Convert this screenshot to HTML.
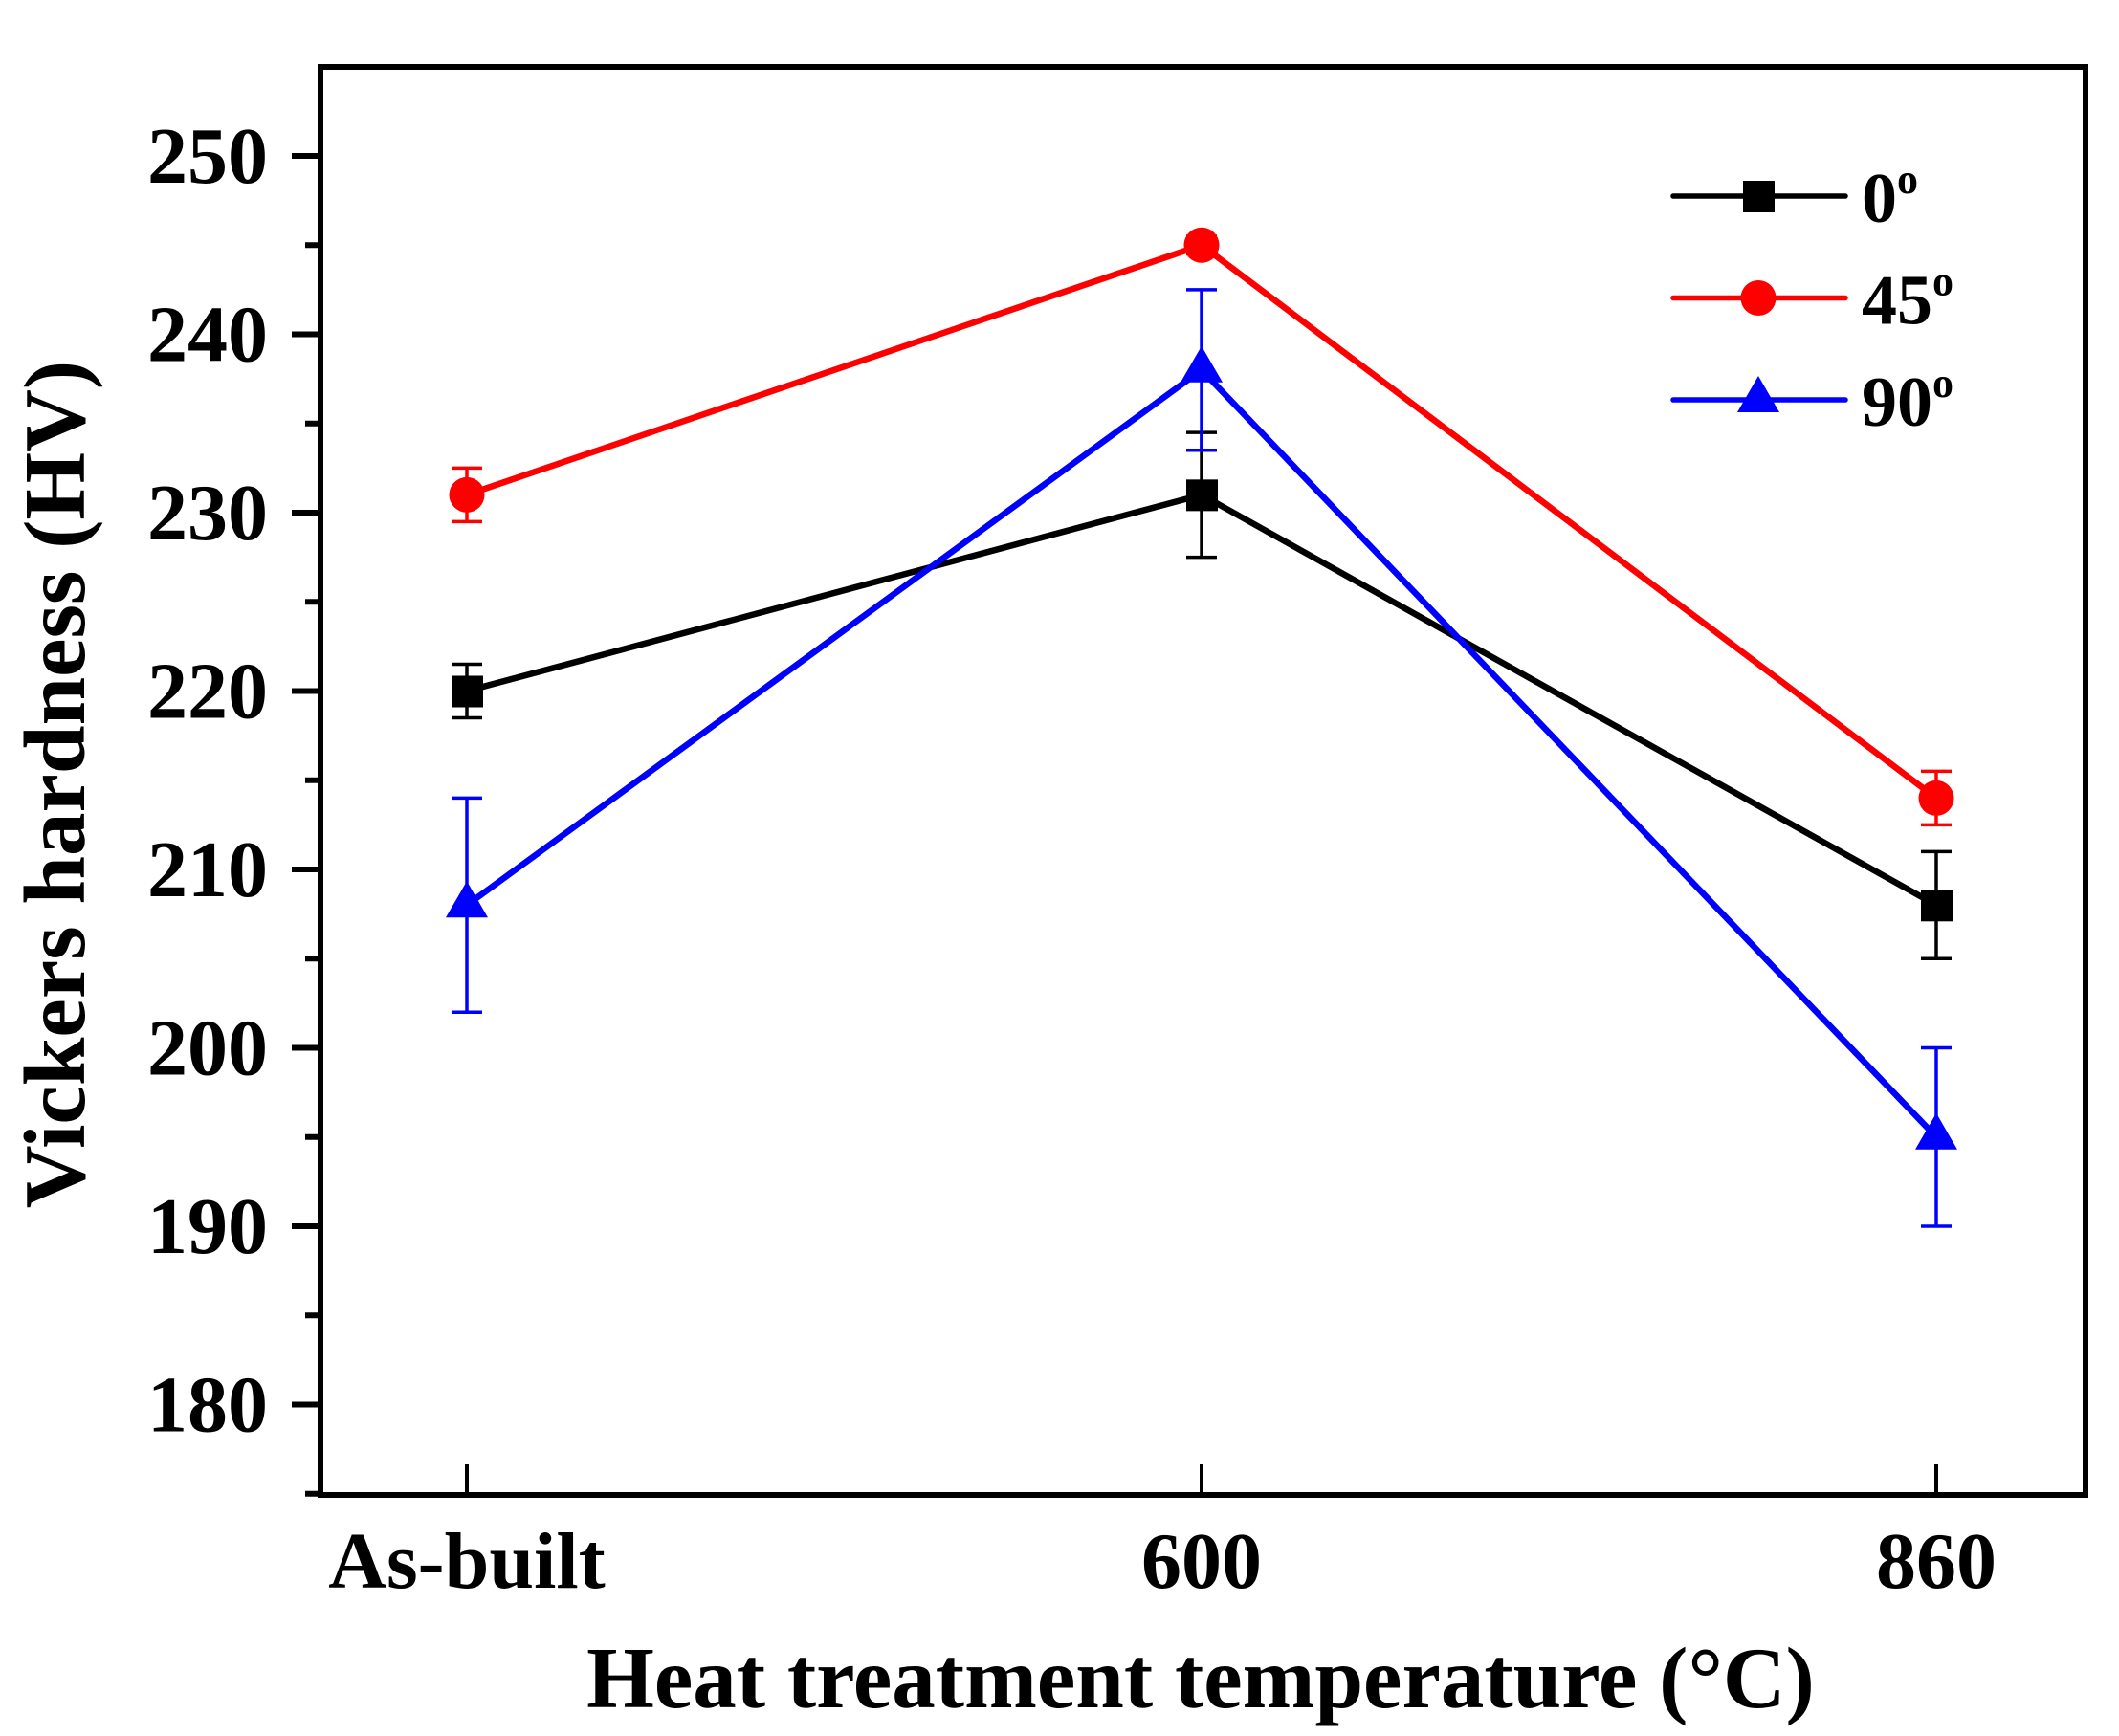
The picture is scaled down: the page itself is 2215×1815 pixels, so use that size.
<!DOCTYPE html>
<html><head><meta charset="utf-8"><style>
html,body{margin:0;padding:0;background:#fff;}
svg{display:block;font-family:"Liberation Serif",serif;font-weight:bold;}
</style></head><body>
<svg id="chart" width="2215" height="1815" viewBox="0 0 2215 1815" xmlns="http://www.w3.org/2000/svg">
<g id="grid"></g>
<g id="series"></g>
<g id="legend"></g>
<text x="1255" y="1785" font-size="91" text-anchor="middle">Heat treatment temperature (°C)</text>
<text transform="translate(88,820) rotate(-90)" font-size="91" text-anchor="middle">Vickers hardness (HV)</text>
</svg>
<script>
const categories = ["As-built", "600", "860"];
const seriesNames = ["0", "45", "90"];
const values0 = [220, 231, 208];
const errors0 = [1.5, 3.5, 3];
const values45 = [231, 245, 214];
const errors45 = [1.5, 0.5, 1.5];
const values90 = [208, 238, 195];
const errors90 = [6, 4.5, 5];
const yTicks = [180, 190, 200, 210, 220, 230, 240, 250];

const NS = "http://www.w3.org/2000/svg";
const L = 335, R = 2180, T = 70, B = 1563;
function xPos(i){ return 488 + i * 768; }
function yPos(v){ return 163 + (250 - v) * 18.65; }
function mk(tag, attrs, parent){ const e = document.createElementNS(NS, tag); for (const k in attrs) e.setAttribute(k, attrs[k]); parent.appendChild(e); return e; }

const grid = document.getElementById('grid');
const frame = mk('rect', {x:L, y:T, width:R-L, height:B-T, fill:'none', stroke:'#000', 'stroke-width':6}, grid);


yTicks.forEach(v => {
  const y = yPos(v);
  const t = mk('line', {x1:L-30, x2:L, y1:y, y2:y, stroke:'#000', 'stroke-width':6}, grid);
  
  
  const lab = mk('text', {x:280, y:y+28, 'font-size':84, 'text-anchor':'end'}, grid);
  lab.textContent = v;
  
  
  const ym = yPos(v + 5);
  if (ym > T + 5) {
    const m = mk('line', {x1:L-16, x2:L, y1:ym, y2:ym, stroke:'#000', 'stroke-width':6}, grid);
    
    
  }
});
{
  const ym = yPos(175);
  const m = mk('line', {x1:L-16, x2:L, y1:ym, y2:ym, stroke:'#000', 'stroke-width':6}, grid);
  
  
}
categories.forEach((c, i) => {
  const x = xPos(i);
  const t = mk('line', {x1:x, x2:x, y1:B-32, y2:B, stroke:'#000', 'stroke-width':4}, grid);
  
  
  const lab = mk('text', {x:x, y:1660, 'font-size':84, 'text-anchor':'middle'}, grid);
  lab.textContent = c;
  
  
});

const seriesDefs = [
  {vals: values0, errs: errors0, color:'#000', marker:'square'},
  {vals: values45, errs: errors45, color:'#f00', marker:'circle'},
  {vals: values90, errs: errors90, color:'#00f', marker:'triangle'}
];
function drawMarker(type, x, y, color, g){
  let e;
  if (type === 'square') e = mk('rect', {x:x-16, y:y-16, width:33, height:33, fill:color}, g);
  else if (type === 'circle') e = mk('circle', {cx:x, cy:y, r:18.5, fill:color}, g);
  else e = mk('polygon', {points:`${x},${y-25} ${x+22},${y+13} ${x-22},${y+13}`, fill:color}, g);
  
  
}
const sg = document.getElementById('series');
seriesDefs.forEach((s, si) => {
  const g = mk('g', {}, sg);
  
  
  const pts = s.vals.map((v, i) => xPos(i) + ',' + yPos(v)).join(' ');
  const pl = mk('polyline', {points:pts, fill:'none', stroke:s.color, 'stroke-width':6.5}, g);
  
  
  s.vals.forEach((v, i) => {
    const x = xPos(i), y1 = yPos(v + s.errs[i]), y2 = yPos(v - s.errs[i]);
    const eb = mk('path', {d:`M${x},${y1}V${y2}M${x-16},${y1}H${x+16}M${x-16},${y2}H${x+16}`, stroke:s.color, 'stroke-width':3.5, fill:'none'}, g);
    
    
    drawMarker(s.marker, x, yPos(v), s.color, g);
  });
});

const lg = document.getElementById('legend');
seriesDefs.forEach((s, si) => {
  const y = 205 + si * 106.5;
  const g = mk('g', {}, lg);
  
  
  const ln = mk('line', {x1:1749, x2:1929, y1:y, y2:y, stroke:s.color, 'stroke-width':5.5, 'stroke-linecap':'round'}, g);
  
  
  drawMarker(s.marker, 1838, y, s.color, g);
  const t = mk('text', {x:1946, y:y+27, 'font-size':74}, g);
  
  
  t.appendChild(document.createTextNode(seriesNames[si]));
  const sup = mk('tspan', {'font-size':44, dy:-30}, t);
  sup.textContent = 'o';
});
</script>
</body></html>
